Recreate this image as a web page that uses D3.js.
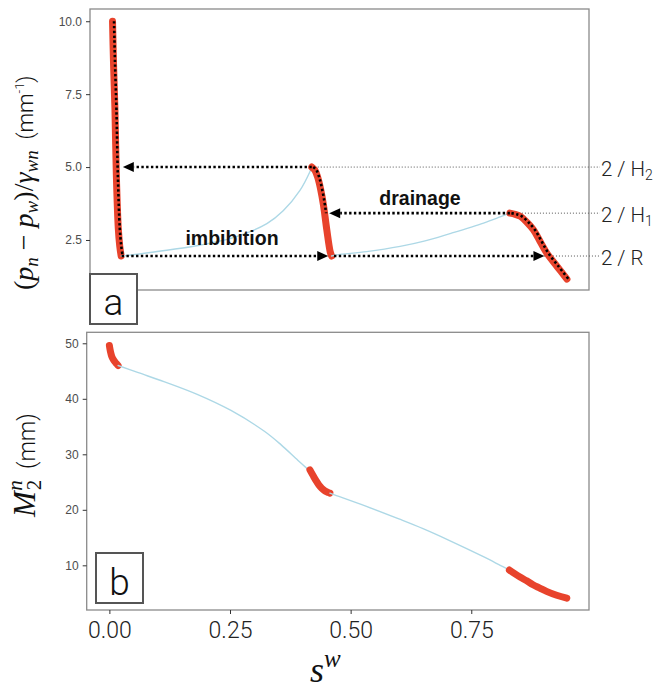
<!DOCTYPE html>
<html>
<head>
<meta charset="utf-8">
<script src="https://cdn.jsdelivr.net/npm/d3@7"></script>
<style>
  html, body { margin: 0; padding: 0; background: #fff; }
  svg { display: block; }
  .light { font-family: Roboto, "Liberation Sans", sans-serif; font-weight: 300; }
  .math { font-family: "Liberation Serif", "DejaVu Serif", serif; }
</style>
</head>
<body>
<svg id="chart" width="660" height="692"></svg>
<script>
// Water saturation s^w along each branch, with capillary pressure and M2^n
const drain1Sw  = [0, 0.002, 0.005, 0.008, 0.012, 0.015, 0.018];
const drain1Pc  = [10.0, 8.6, 7.0, 4.7, 2.9, 2.3, 1.95];
const drain1M2  = [49.6, 48.6, 47.6, 47.1, 46.6, 46.3, 46.0];

const imb1Sw    = [0.018, 0.06, 0.113, 0.182, 0.252, 0.322, 0.356, 0.391, 0.412, 0.4156];
const imb1Pc    = [1.95, 2.03, 2.15, 2.32, 2.58, 3.06, 3.5, 4.2, 4.85, 5.0];
const imb1M2    = [46.0, 44.7, 43.1, 40.8, 37.9, 34.1, 31.7, 28.9, 27.3, 27.2];

const drain2Sw  = [0.4156, 0.422, 0.428, 0.434, 0.44, 0.447, 0.454, 0.457];
const drain2Pc  = [5.0, 4.9, 4.65, 4.25, 3.7, 2.85, 2.1, 1.95];
const drain2M2  = [27.2, 26.2, 25.3, 24.5, 23.9, 23.4, 23.1, 23.0];

const imb2Sw    = [0.457, 0.468, 0.53, 0.6, 0.65, 0.704, 0.774, 0.81, 0.829];
const imb2Pc    = [1.95, 1.99, 2.1, 2.28, 2.46, 2.72, 3.08, 3.3, 3.42];
const imb2M2    = [23.0, 22.65, 20.7, 18.35, 16.6, 14.5, 11.6, 10.0, 9.15];

const drain3Sw  = [0.829, 0.84, 0.851, 0.865, 0.878, 0.892, 0.906, 0.927, 0.948];
const drain3Pc  = [3.42, 3.38, 3.31, 3.1, 2.85, 2.45, 2.05, 1.6, 1.16];
const drain3M2  = [9.15, 8.5, 7.9, 7.2, 6.5, 5.9, 5.3, 4.6, 4.1];

// Reference levels 2/H2, 2/H1, 2/R and their labels
const levelNames  = ["H2", "H1", "R"];
const levelValues = [5.0, 3.42, 1.95];
const levelStartSw = [0.4156, 0.829, 0.9];

// Dotted arrows: level, start s^w, tip s^w
const arrowLevel = [5.0, 1.95, 1.95, 3.42];
const arrowFrom  = [0.4156, 0.019, 0.462, 0.829];
const arrowTo    = [0.0215, 0.450, 0.901, 0.452];

// Tick values
const xTicks    = [0, 0.25, 0.5, 0.75];
const xTickText = ["0.00", "0.25", "0.50", "0.75"];
const pcTicks   = [2.5, 5.0, 7.5, 10.0];
const m2Ticks   = [10, 20, 30, 40, 50];

const branches = [
  { kind: "drain", sw: drain1Sw, pc: drain1Pc, m2: drain1M2, overlay: "full" },
  { kind: "imb",   sw: imb1Sw,   pc: imb1Pc,   m2: imb1M2 },
  { kind: "drain", sw: drain2Sw, pc: drain2Pc, m2: drain2M2, overlay: "upper" },
  { kind: "imb",   sw: imb2Sw,   pc: imb2Pc,   m2: imb2M2 },
  { kind: "drain", sw: drain3Sw, pc: drain3Pc, m2: drain3M2, overlay: "full" }
];

const RED = "#e8432c", BLUE = "#add8e6";
const svg = d3.select("#chart");
const defs = svg.append("defs");

// ---- panel geometry and scales
const panelA = { l: 90, r: 589, t: 9, b: 290 };
const panelB = { l: 86.7, r: 589, t: 332.3, b: 610 };
const swDomain = [-0.047, 0.994];
const xTop = d3.scaleLinear().domain(swDomain).range([panelA.l, panelA.r]);
const xBot = d3.scaleLinear().domain(swDomain).range([panelB.l, panelB.r]);
const yTop = d3.scaleLinear().domain([0.785, 10.42]).range([panelA.b, panelA.t]);
const yBot = d3.scaleLinear().domain([1.95, 51.98]).range([panelB.b, panelB.t]);

function frame(p) {
  svg.append("rect")
    .attr("x", p.l).attr("y", p.t).attr("width", p.r - p.l).attr("height", p.b - p.t)
    .attr("fill", "none").attr("stroke", "#8a8a8a").attr("stroke-width", 1.3);
}

function yAxis(g, scale, ticks, fmt) {
  const ax = d3.axisLeft(scale).tickValues(ticks).tickSize(4).tickPadding(4).tickFormat(fmt);
  g.call(ax);
  g.select(".domain").remove();
  g.selectAll(".tick line").attr("stroke", "#333").attr("stroke-width", 1);
  g.selectAll(".tick text")
    .attr("fill", "#4d4d4d")
    .style("font-family", "'Liberation Sans', Arial, sans-serif")
    .style("font-size", "12px");
}

// smooth curve through the sampled branch points
const curve = d3.curveCatmullRom.alpha(0.5);

// ---- top panel: capillary pressure
frame(panelA);
yAxis(svg.append("g").attr("transform", `translate(${panelA.l},0)`), yTop, pcTicks, d3.format(".1f"));

// thin grey guides to the level labels
levelValues.forEach((v, i) => {
  svg.append("line")
    .attr("x1", xTop(levelStartSw[i])).attr("x2", 600)
    .attr("y1", yTop(v)).attr("y2", yTop(v))
    .attr("stroke", "#555").attr("stroke-width", 1).attr("stroke-dasharray", "1,2");
});

const lineTop = d3.line().x((d) => xTop(d[0])).y((d) => yTop(d[1])).curve(curve);
const lineBot = d3.line().x((d) => xBot(d[0])).y((d) => yBot(d[1])).curve(curve);

branches.forEach((b) => {
  const pts = b.sw.map((s, i) => [s, b.pc[i]]);
  svg.append("path").attr("d", lineTop(pts)).attr("fill", "none")
    .attr("stroke", b.kind === "drain" ? RED : BLUE)
    .attr("stroke-width", b.kind === "drain" ? 7 : 1.4)
    .attr("stroke-linecap", "round").attr("stroke-linejoin", "round");
});

// clip for the dotted path along the upper part of the second drainage branch
defs.append("clipPath").attr("id", "upperClip")
  .append("rect").attr("x", 0).attr("y", 0).attr("width", 660).attr("height", yTop(levelValues[1]));

branches.filter((b) => b.overlay).forEach((b) => {
  const pts = b.sw.map((s, i) => [s, b.pc[i]]);
  const p = svg.append("path").attr("d", lineTop(pts)).attr("fill", "none")
    .attr("transform", "translate(1.5,0)")
    .attr("stroke", "#000").attr("stroke-width", 2.6).attr("stroke-dasharray", "2.4,2.4");
  if (b.overlay === "upper") p.attr("clip-path", "url(#upperClip)");
});

// dotted arrows
arrowLevel.forEach((v, i) => {
  const y = yTop(v), x0 = xTop(arrowFrom[i]), x1 = xTop(arrowTo[i]);
  const dir = Math.sign(x1 - x0);
  const base = x1 - dir * 11;
  svg.append("line").attr("x1", x0).attr("x2", base).attr("y1", y).attr("y2", y)
    .attr("stroke", "#000").attr("stroke-width", 2.6).attr("stroke-dasharray", "2.4,2.4");
  svg.append("path")
    .attr("d", `M${x1},${y} L${base},${y - 5} L${base},${y + 5} Z`)
    .attr("fill", "#000");
});

// branch names
svg.append("text").attr("x", 232).attr("y", 245).attr("text-anchor", "middle")
  .style("font-family", "'Liberation Sans', Arial, sans-serif").style("font-weight", "bold")
  .style("font-size", "19.5px").attr("fill", "#111").text("imbibition");
svg.append("text").attr("x", 420).attr("y", 205).attr("text-anchor", "middle")
  .style("font-family", "'Liberation Sans', Arial, sans-serif").style("font-weight", "bold")
  .style("font-size", "19.5px").attr("fill", "#111").text("drainage");

// level labels on the right
levelNames.forEach((n, i) => {
  const t = svg.append("text").attr("class", "light")
    .attr("x", 601).attr("y", yTop(levelValues[i]) + 8.8)
    .style("font-size", "20.5px").attr("fill", "#222");
  t.append("tspan").text("2 / " + n[0]);
  if (n.length > 1) {
    t.append("tspan").attr("dy", 4).style("font-size", "14px").text(n.slice(1));
  }
});

// y title, top panel
{
  const t = svg.append("text").attr("transform", "rotate(-90)")
    .attr("x", -290).attr("y", 33).attr("fill", "#111").style("font-size", "28px");
  const m = (txt, opts = {}) => {
    const s = t.append("tspan").text(txt).attr("class", opts.sans ? "light" : "math");
    if (opts.it) s.style("font-style", "italic");
    if (opts.size) s.style("font-size", opts.size);
    if (opts.dy) s.attr("dy", opts.dy);
    return s;
  };
  m("(");
  m("p", { it: 1 });
  m("n", { it: 1, size: "19px", dy: 5 });
  m(" − ", { dy: -5 });
  m("p", { it: 1 });
  m("w", { it: 1, size: "19px", dy: 5 });
  m(")/", { dy: -5 });
  m("γ", { it: 1 });
  m("wn", { it: 1, size: "19px", dy: 5 });
  m("\u00a0\u00a0(mm", { sans: 1, dy: -5, size: "22px" });
  m("-1", { sans: 1, size: "13px", dy: -9 });
  m(")", { sans: 1, size: "22px", dy: 9 });
}

// ---- bottom panel: M2^n
frame(panelB);
yAxis(svg.append("g").attr("transform", `translate(${panelB.l},0)`), yBot, m2Ticks, d3.format("d"));

branches.forEach((b) => {
  const pts = b.sw.map((s, i) => [s, b.m2[i]]);
  svg.append("path").attr("d", lineBot(pts)).attr("fill", "none")
    .attr("stroke", b.kind === "drain" ? RED : BLUE)
    .attr("stroke-width", b.kind === "drain" ? 7 : 1.4)
    .attr("stroke-linecap", "round").attr("stroke-linejoin", "round");
});

// x axis
{
  const g = svg.append("g").attr("transform", `translate(0,${panelB.b})`);
  g.call(d3.axisBottom(xBot).tickValues(xTicks).tickSize(4).tickPadding(8)
    .tickFormat((d, i) => xTickText[i]));
  g.select(".domain").remove();
  g.selectAll(".tick line").attr("stroke", "#333");
  g.selectAll(".tick text").attr("class", "light").attr("fill", "#222")
    .style("font-size", "23px").attr("dy", "0.71em");
}

// x title s^w
{
  const t = svg.append("text").attr("class", "math").attr("x", 310).attr("y", 682)
    .attr("fill", "#111").style("font-size", "36px").style("font-style", "italic");
  t.append("tspan").text("s");
  t.append("tspan").attr("dy", -15).style("font-size", "25px").text("w");
}

// y title, bottom panel
{
  const t = svg.append("text").attr("transform", "rotate(-90)")
    .attr("x", -517).attr("y", 35).attr("fill", "#111").style("font-size", "31px");
  t.append("tspan").attr("class", "math").style("font-style", "italic").text("M");
  t.append("tspan").attr("class", "math").style("font-size", "21px").attr("dx", 1).attr("dy", 6).text("2");
  t.append("tspan").attr("class", "math").style("font-size", "21px").style("font-style", "italic")
    .attr("dx", -11).attr("dy", -19).text("n");
  t.append("tspan").attr("class", "light").style("font-size", "23px").attr("dy", 13).text("\u00a0\u00a0(mm)");
}

// panel tags
function tag(x, y, letter, baseline) {
  svg.append("rect").attr("x", x).attr("y", y).attr("width", 47).attr("height", 50)
    .attr("fill", "#fff").attr("stroke", "#555").attr("stroke-width", 2);
  svg.append("text").attr("class", "light").attr("x", x + 23.5).attr("y", baseline)
    .attr("text-anchor", "middle").attr("fill", "#111").style("font-size", "37px").text(letter);
}
tag(90, 274, "a", 315);
tag(96, 553, "b", 595);
</script>
</body>
</html>
